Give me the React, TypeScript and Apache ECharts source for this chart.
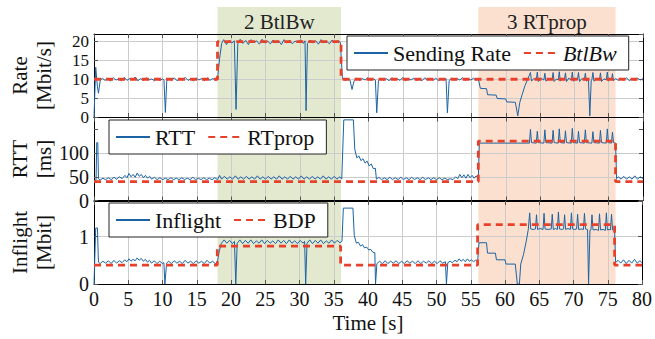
import React, { useEffect, useRef } from "react";
import * as echarts from "echarts";

// ---------- data ----------
const xTicks = { min: 0, max: 80, step: 5 };
const rateTicks = [0, 5, 10, 15, 20];
const rttTicks = [0, 50, 100];
const inflightTicks = [0, 1];
const yMaxes = [22, 175, 1.75];
const yIntervals = [5, 50, 1];

const phaseLabels = ["2 BtlBw", "3 RTprop"];
const phaseStarts = [18, 56];
const phaseEnds = [36, 76];

const btlBwData: [number, number][] = [[0, 10], [18, 10], [18, 20], [36, 20], [36, 10], [80, 10]];
const rtpropData: [number, number][] = [[0, 40], [56, 40], [56, 125], [76, 125], [76, 40], [80, 40]];
const bdpData: [number, number][] = [[0, 0.4], [18, 0.4], [18, 0.8], [36, 0.8], [36, 0.4], [56, 0.4], [56, 1.25], [76, 1.25], [76, 0.4], [80, 0.4]];

const rateData: [number, number][] = [
  [0, 0], [0.25, 13.2], [0.5, 8], [0.65, 6.3], [0.9, 9.6], [1.2, 10.3], [1.6, 9.7], [2.0, 10.2], [2.4, 9.5], [2.8, 10.4],
  [3.2, 9.8], [3.6, 10.1], [4.0, 9.6], [4.4, 10.5], [4.8, 9.7], [5.2, 10.2], [5.6, 9.8], [6.0, 10.6], [6.4, 9.6], [6.8, 10.2],
  [7.2, 9.7], [7.6, 10.4], [8.0, 9.8], [8.4, 10.1], [8.8, 9.6], [9.2, 10.3], [9.6, 9.7], [10.0, 10.1], [10.2, 9.8], [10.4, 1.2],
  [10.6, 9.5], [10.9, 10.2], [11.3, 9.7], [11.7, 10.4], [12.1, 9.6], [12.5, 10.2], [12.9, 9.8], [13.3, 10.5], [13.7, 9.7], [14.1, 10.1],
  [14.5, 9.6], [14.9, 10.3], [15.3, 9.8], [15.7, 10.2], [16.1, 9.6], [16.5, 10.4], [16.9, 9.7], [17.3, 10.2], [17.7, 9.8], [18.0, 10.0],
  [18.3, 15.5], [18.6, 19.5], [18.9, 20.5], [19.3, 19.2], [19.7, 20.3], [20.1, 19.6], [20.45, 20.2], [20.7, 2.0], [20.95, 19.4], [21.3, 20.6],
  [21.7, 19.5], [22.1, 20.3], [22.5, 19.2], [22.9, 20.5], [23.3, 19.7], [23.7, 20.2], [24.1, 19.3], [24.5, 20.6], [24.9, 19.6], [25.3, 20.1],
  [25.7, 19.4], [26.1, 20.4], [26.5, 19.7], [26.9, 20.2], [27.3, 19.2], [27.7, 20.5], [28.1, 19.6], [28.5, 20.3], [28.9, 19.4], [29.3, 20.1],
  [29.7, 19.7], [30.1, 20.5], [30.5, 19.5], [30.75, 20.2], [30.9, 1.7], [31.1, 19.5], [31.5, 20.4], [31.9, 19.6], [32.3, 20.2], [32.7, 19.3],
  [33.1, 20.5], [33.5, 19.7], [33.9, 20.1], [34.3, 19.4], [34.7, 20.4], [35.1, 19.6], [35.5, 20.2], [35.9, 19.8], [36.2, 10.2], [36.6, 9.7],
  [37.0, 10.1], [37.3, 9.8], [37.6, 7.3], [37.9, 9.6], [38.3, 10.3], [38.7, 9.7], [39.1, 10.2], [39.5, 9.8], [39.9, 10.4], [40.3, 9.7],
  [40.7, 10.1], [41.0, 9.8], [41.2, 1.1], [41.45, 9.6], [41.8, 10.3], [42.2, 9.7], [42.6, 10.2], [43.0, 9.6], [43.4, 10.4], [43.8, 9.8],
  [44.2, 10.1], [44.6, 9.7], [45.0, 10.5], [45.4, 9.6], [45.8, 10.2], [46.2, 9.8], [46.6, 10.3], [47.0, 9.7], [47.4, 10.1], [47.8, 9.6],
  [48.2, 10.4], [48.6, 9.8], [49.0, 10.2], [49.4, 9.7], [49.8, 10.3], [50.2, 9.6], [50.6, 10.1], [51.0, 9.8], [51.3, 10.2], [51.5, 1.1],
  [51.75, 9.6], [52.1, 10.3], [52.5, 9.7], [52.9, 10.2], [53.3, 9.8], [53.7, 10.4], [54.1, 9.7], [54.5, 10.2], [54.9, 9.8], [55.3, 10.3],
  [55.7, 9.7], [56.0, 10.1], [56.3, 7.6], [57.2, 7.5], [57.35, 5.9], [58.6, 5.8], [58.75, 4.9], [60.0, 4.8], [60.15, 4.0], [61.4, 3.9],
  [61.75, 0.3], [62.05, 3.9], [62.4, 6.0], [62.8, 8.3], [63.2, 10.0], [63.6, 11.8], [63.75, 9.5], [64.1, 10.2], [64.45, 9.9], [64.6, 11.9],
  [64.75, 9.4], [65.1, 10.3], [65.55, 9.8], [65.7, 11.6], [65.85, 9.5], [66.3, 10.2], [66.75, 9.9], [66.9, 11.8], [67.05, 9.4], [67.4, 10.1],
  [67.65, 9.8], [67.8, 12.0], [67.95, 9.5], [68.3, 10.2], [68.55, 9.9], [68.7, 11.7], [68.85, 9.4], [69.2, 10.3], [69.55, 9.8], [69.7, 11.9],
  [69.85, 9.5], [70.2, 10.1], [70.45, 9.9], [70.6, 11.8], [70.75, 9.4], [71.1, 10.2], [71.45, 9.8], [71.6, 11.6], [71.75, 9.5], [72.05, 10.0],
  [72.25, 0.3], [72.45, 9.6], [72.55, 9.9], [72.7, 11.8], [72.85, 9.5], [73.3, 10.2], [73.65, 9.8], [73.8, 11.7], [73.95, 9.4], [74.3, 10.1],
  [74.65, 9.9], [74.8, 11.9], [74.95, 9.5], [75.2, 10.2], [75.4, 9.8], [75.55, 11.5], [75.7, 9.6], [76.0, 10.2], [76.4, 9.7], [76.8, 10.3],
  [77.2, 9.8], [77.6, 10.4], [78.0, 9.6], [78.4, 10.2], [78.8, 9.7], [79.2, 10.3], [79.6, 9.8], [80, 10.1],
];

const rttData: [number, number][] = [
  [0, 42], [0.3, 43], [0.4, 122], [0.55, 122], [0.65, 46], [0.9, 43], [1.3, 47], [1.7, 44], [2.1, 48], [2.5, 44],
  [2.9, 49], [3.3, 45], [3.7, 50], [4.1, 46], [4.5, 53], [4.8, 48], [5.1, 57], [5.4, 50], [5.7, 55], [6.0, 49],
  [6.3, 58], [6.6, 51], [6.9, 55], [7.2, 48], [7.5, 53], [7.8, 47], [8.1, 51], [8.4, 45], [8.8, 49], [9.2, 44],
  [9.6, 48], [10.0, 44], [10.4, 47], [10.8, 44], [11.2, 48], [11.6, 44], [12.0, 47], [12.4, 44], [12.8, 48], [13.2, 44],
  [13.6, 47], [14.0, 44], [14.4, 49], [14.8, 44], [15.2, 47], [15.6, 44], [16.0, 48], [16.4, 44], [16.8, 47], [17.2, 44],
  [17.6, 48], [18.0, 44], [18.3, 53], [18.6, 45], [19.0, 51], [19.4, 45], [19.8, 50], [20.2, 45], [20.6, 52], [21.0, 45],
  [21.4, 50], [21.8, 45], [22.2, 51], [22.6, 45], [23.0, 50], [23.4, 45], [23.8, 52], [24.2, 45], [24.6, 50], [25.0, 45],
  [25.4, 51], [25.8, 45], [26.2, 50], [26.6, 45], [27.0, 52], [27.4, 45], [27.8, 50], [28.2, 45], [28.6, 51], [29.0, 45],
  [29.4, 50], [29.8, 45], [30.2, 52], [30.6, 45], [31.0, 50], [31.4, 45], [31.8, 51], [32.2, 45], [32.6, 50], [33.0, 45],
  [33.4, 52], [33.8, 45], [34.2, 50], [34.6, 45], [35.0, 51], [35.4, 45], [35.8, 50], [36.1, 45], [36.4, 170], [37.8, 170],
  [38.0, 108], [38.3, 90], [38.6, 94], [38.9, 84], [39.2, 88], [39.5, 79], [39.8, 83], [40.1, 73], [40.4, 77], [40.7, 67],
  [41.0, 68], [41.15, 45], [41.5, 49], [41.9, 44], [42.3, 48], [42.7, 44], [43.1, 49], [43.5, 44], [43.9, 48], [44.3, 44],
  [44.7, 49], [45.1, 44], [45.5, 48], [45.9, 44], [46.3, 49], [46.7, 44], [47.1, 48], [47.5, 44], [47.9, 49], [48.3, 44],
  [48.7, 48], [49.1, 44], [49.5, 48], [49.9, 44], [50.3, 48], [50.7, 44], [51.1, 47], [51.5, 44], [51.9, 46], [52.3, 44],
  [52.7, 50], [53.0, 46], [53.3, 55], [53.6, 48], [53.9, 54], [54.2, 47], [54.5, 55], [54.8, 48], [55.1, 53], [55.4, 47],
  [55.7, 52], [56.0, 46], [56.15, 121], [63.45, 121], [63.6, 150], [63.75, 122], [64.45, 121], [64.6, 146], [64.75, 122], [65.55, 121],
  [65.7, 149], [65.85, 122], [66.75, 121], [66.9, 148], [67.05, 122], [67.65, 121], [67.8, 151], [67.95, 122], [68.55, 121], [68.7, 147],
  [68.85, 122], [69.55, 121], [69.7, 152], [69.85, 122], [70.45, 121], [70.6, 146], [70.75, 122], [71.45, 121], [71.6, 149], [71.75, 122],
  [72.55, 121], [72.7, 145], [72.85, 122], [73.65, 121], [73.8, 148], [73.95, 122], [74.65, 121], [74.8, 151], [74.95, 122], [75.4, 121],
  [75.55, 144], [75.7, 122], [76.0, 121], [76.15, 46], [76.4, 50], [76.8, 45], [77.2, 51], [77.6, 45], [78.0, 50], [78.4, 45],
  [78.8, 52], [79.2, 45], [79.6, 50], [80, 46],
];

const inflightData: [number, number][] = [
  [0, 0], [0.25, 1.18], [0.5, 1.18], [0.65, 0.46], [0.9, 0.43], [1.3, 0.48], [1.7, 0.44], [2.1, 0.49], [2.5, 0.43], [2.9, 0.5],
  [3.3, 0.44], [3.7, 0.49], [4.1, 0.45], [4.5, 0.51], [4.8, 0.47], [5.1, 0.53], [5.4, 0.48], [5.7, 0.52], [6.0, 0.49], [6.3, 0.55],
  [6.6, 0.5], [6.9, 0.54], [7.2, 0.48], [7.5, 0.52], [7.8, 0.46], [8.1, 0.5], [8.4, 0.44], [8.8, 0.49], [9.2, 0.43], [9.6, 0.48],
  [10.0, 0.43], [10.2, 0.45], [10.35, 0], [10.6, 0.44], [10.9, 0.48], [11.3, 0.43], [11.7, 0.49], [12.1, 0.44], [12.5, 0.48], [12.9, 0.43],
  [13.3, 0.5], [13.7, 0.44], [14.1, 0.48], [14.5, 0.43], [14.9, 0.49], [15.3, 0.44], [15.7, 0.48], [16.1, 0.43], [16.5, 0.5], [16.9, 0.44],
  [17.3, 0.48], [17.7, 0.43], [18.0, 0.45], [18.3, 0.7], [18.6, 0.86], [19.0, 0.93], [19.4, 0.86], [19.8, 0.92], [20.2, 0.85], [20.5, 0.9],
  [20.7, 0], [20.9, 0.86], [21.3, 0.93], [21.7, 0.85], [22.1, 0.92], [22.5, 0.86], [22.9, 0.93], [23.3, 0.85], [23.7, 0.91], [24.1, 0.86],
  [24.5, 0.93], [24.9, 0.85], [25.3, 0.92], [25.7, 0.86], [26.1, 0.91], [26.5, 0.85], [26.9, 0.93], [27.3, 0.86], [27.7, 0.92], [28.1, 0.85],
  [28.5, 0.93], [28.9, 0.86], [29.3, 0.91], [29.7, 0.85], [30.1, 0.92], [30.5, 0.86], [30.75, 0.9], [30.9, 0], [31.1, 0.86], [31.5, 0.93],
  [31.9, 0.85], [32.3, 0.92], [32.7, 0.86], [33.1, 0.93], [33.5, 0.85], [33.9, 0.91], [34.3, 0.86], [34.7, 0.93], [35.1, 0.86], [35.5, 0.92],
  [35.9, 0.87], [36.2, 0.9], [36.4, 1.6], [37.8, 1.6], [38.0, 1.02], [38.3, 0.86], [38.6, 0.88], [38.9, 0.8], [39.2, 0.83], [39.5, 0.76],
  [39.8, 0.78], [40.1, 0.72], [40.4, 0.73], [40.7, 0.67], [41.0, 0.66], [41.1, 0], [41.3, 0.43], [41.7, 0.48], [42.1, 0.43], [42.5, 0.49],
  [42.9, 0.43], [43.3, 0.48], [43.7, 0.44], [44.1, 0.49], [44.5, 0.43], [44.9, 0.48], [45.3, 0.43], [45.7, 0.49], [46.1, 0.44], [46.5, 0.48],
  [46.9, 0.43], [47.3, 0.49], [47.7, 0.43], [48.1, 0.48], [48.5, 0.44], [48.9, 0.49], [49.3, 0.43], [49.7, 0.48], [50.1, 0.43], [50.5, 0.49],
  [50.9, 0.44], [51.3, 0.47], [51.45, 0], [51.65, 0.45], [52.0, 0.48], [52.3, 0.45], [52.7, 0.5], [53.0, 0.47], [53.3, 0.53], [53.6, 0.48],
  [53.9, 0.52], [54.2, 0.47], [54.5, 0.53], [54.8, 0.48], [55.1, 0.51], [55.4, 0.47], [55.7, 0.5], [56.0, 0.46], [56.2, 0.87], [57.3, 0.87],
  [57.45, 0.65], [58.6, 0.65], [58.75, 0.51], [60.0, 0.51], [60.15, 0.42], [61.5, 0.42], [61.8, 0], [62.1, 0], [62.3, 0.42], [62.7, 0.62],
  [63.1, 0.9], [63.4, 1.15], [63.6, 1.5], [63.75, 1.16], [64.1, 1.15], [64.45, 1.16], [64.6, 1.46], [64.75, 1.15], [65.1, 1.17], [65.55, 1.15],
  [65.7, 1.49], [65.85, 1.16], [66.3, 1.15], [66.75, 1.16], [66.9, 1.47], [67.05, 1.15], [67.4, 1.17], [67.65, 1.15], [67.8, 1.52], [67.95, 1.16],
  [68.3, 1.15], [68.55, 1.16], [68.7, 1.46], [68.85, 1.15], [69.2, 1.17], [69.55, 1.15], [69.7, 1.5], [69.85, 1.16], [70.2, 1.15], [70.45, 1.16],
  [70.6, 1.47], [70.75, 1.15], [71.1, 1.16], [71.45, 1.15], [71.6, 1.49], [71.75, 1.16], [72.05, 1.15], [72.2, 0], [72.4, 1.13], [72.55, 1.14],
  [72.7, 1.46], [72.85, 1.14], [73.3, 1.15], [73.65, 1.13], [73.8, 1.48], [73.95, 1.14], [74.3, 1.15], [74.65, 1.13], [74.8, 1.5], [74.95, 1.14],
  [75.2, 1.15], [75.4, 1.14], [75.55, 1.47], [75.7, 1.14], [76.0, 1.13], [76.15, 0.45], [76.5, 0.5], [76.9, 0.44], [77.3, 0.51], [77.7, 0.43],
  [78.1, 0.5], [78.5, 0.44], [78.9, 0.52], [79.3, 0.44], [79.7, 0.49], [80, 0.45],
];

// ---------- styling ----------
const FONT = "Liberation Serif";
const BLUE = "#1b63a3";
const RED = "#e8412b";
const GRID_GRAY = "#cccccc";
const NO_LINE = "rgba(0,0,0,0)";
const PHASE_COLORS = ["#e3e9cf", "#fbe0cf"];
const GRID_TOPS = [34, 117.5, 201];
const GRID_H = 83;
const Y_LABEL_SIZES = [17, 20, 20];

function xAxesFor(i: number) {
  const common: any = {
    type: "value", gridIndex: i, min: xTicks.min, max: xTicks.max, interval: xTicks.step,
    axisLine: { show: true, onZero: false, lineStyle: { color: "#000", width: 1 } },
    axisTick: { show: true, inside: true, length: 4, lineStyle: { color: "#555", width: 1 } },
  };
  return [
    {
      ...common, position: "bottom",
      axisLabel: { show: i === 2, fontFamily: FONT, fontSize: 20, color: "#111", margin: 5 },
      splitLine: { show: true, lineStyle: { color: GRID_GRAY, width: 1 } },
      name: i === 2 ? "Time [s]" : "", nameLocation: "middle", nameGap: 28,
      nameTextStyle: { fontFamily: FONT, fontSize: 21, color: "#111", fontWeight: "normal" },
    },
    { ...common, position: "top", axisLabel: { show: false }, splitLine: { show: false } },
  ];
}

function yAxesFor(i: number, ticks: number[], name: string) {
  const max = yMaxes[i];
  const interval = yIntervals[i];
  // grid line colour per generated tick: visible only on the listed ticks
  const lineColors: string[] = [];
  for (let v = 0; v <= max + 1e-9; v += interval) lineColors.push(ticks.some((t) => Math.abs(t - v) < 1e-9) ? GRID_GRAY : NO_LINE);
  lineColors.push(NO_LINE);
  const common: any = {
    type: "value", gridIndex: i, min: 0, max, interval,
    axisLine: { show: true, onZero: false, lineStyle: { color: "#000", width: 1 } },
    axisTick: { show: true, inside: true, length: 4, lineStyle: { color: "#555", width: 1 } },
  };
  return [
    {
      ...common, position: "left",
      axisLabel: {
        fontFamily: FONT, fontSize: Y_LABEL_SIZES[i], lineHeight: 15, color: "#111", margin: 5, showMaxLabel: false, hideOverlap: false,
        formatter: (v: number) => (ticks.some((t) => Math.abs(t - v) < 1e-9) ? String(v) : ""),
      },
      splitLine: { show: true, lineStyle: { color: lineColors, width: 1 } },
      name, nameLocation: "middle", nameRotate: 90, nameGap: 38, nameMoveOverlap: false,
      nameTextStyle: { fontFamily: FONT, fontSize: 21, lineHeight: 24, color: "#111", align: "center" },
    },
    { ...common, position: "right", axisLabel: { show: false }, splitLine: { show: false } },
  ];
}

function lineSeries(name: string, data: [number, number][], i: number, dashed: boolean) {
  return {
    type: "line", name, data, xAxisIndex: 2 * i, yAxisIndex: 2 * i,
    symbol: "none", showSymbol: false, silent: true,
    itemStyle: { color: dashed ? RED : BLUE },
    lineStyle: dashed ? { color: RED, width: 2.8, type: [7, 5] } : { color: BLUE, width: 1 },
    z: dashed ? 3 : 2,
  };
}

function legendFor(names: string[], left: number, top: number) {
  return {
    data: names, left, top, orient: "horizontal", selectedMode: false,
    backgroundColor: "#fff", borderColor: "#222", borderWidth: 1, borderRadius: 0,
    padding: [6, 12, 6, 6], itemWidth: 34, itemHeight: 14, itemGap: 12,
    itemStyle: { opacity: 0 },
    textStyle: { fontFamily: FONT, fontSize: 22, color: "#111", rich: { it: { fontFamily: FONT, fontSize: 22, fontStyle: "italic", color: "#111" } } },
    formatter: (n: string) => (n === "BtlBw" ? "{it|BtlBw}" : n),
    z: 10,
  };
}

function buildOption(): any {
  return {
    animation: false,
    textStyle: { fontFamily: FONT },
    grid: GRID_TOPS.map((t) => ({ left: 92, right: 12, top: t, height: GRID_H, containLabel: false })),
    xAxis: [...xAxesFor(0), ...xAxesFor(1), ...xAxesFor(2)],
    yAxis: [
      ...yAxesFor(0, rateTicks, "Rate\n[Mbit/s]"),
      ...yAxesFor(1, rttTicks, "RTT\n[ms]"),
      ...yAxesFor(2, inflightTicks, "Inflight\n[Mbit]"),
    ],
    legend: [
      legendFor(["Sending Rate", "BtlBw"], 347, 36),
      legendFor(["RTT", "RTprop"], 109, 120),
      legendFor(["Inflight", "BDP"], 109, 203),
    ],
    series: [
      lineSeries("Sending Rate", rateData, 0, false),
      lineSeries("BtlBw", btlBwData, 0, true),
      lineSeries("RTT", rttData, 1, false),
      lineSeries("RTprop", rtpropData, 1, true),
      lineSeries("Inflight", inflightData, 2, false),
      lineSeries("BDP", bdpData, 2, true),
    ],
  };
}

export default function App() {
  const ref = useRef<HTMLDivElement>(null);
  useEffect(() => {
    document.body.style.margin = "0";
    const chart = echarts.init(ref.current!, null, { renderer: "svg" });
    chart.setOption(buildOption());
    const yTop = chart.convertToPixel({ yAxisIndex: 0 }, yMaxes[0]) as number;
    const yBottom = chart.convertToPixel({ yAxisIndex: 4 }, 0) as number;
    const shadeTop = yTop - 27;
    const graphics: any[] = [];
    phaseStarts.forEach((s, k) => {
      const x0 = chart.convertToPixel({ xAxisIndex: 0 }, s) as number;
      const x1 = chart.convertToPixel({ xAxisIndex: 0 }, phaseEnds[k]) as number;
      graphics.push({
        type: "rect", z: -1, silent: true,
        shape: { x: x0, y: shadeTop, width: x1 - x0, height: yBottom - shadeTop },
        style: { fill: PHASE_COLORS[k] },
      });
      graphics.push({
        type: "text", z: 5, silent: true, x: (x0 + x1) / 2, y: shadeTop + 15,
        style: { text: phaseLabels[k], fontFamily: FONT, fontSize: 21, fill: "#222", align: "center", verticalAlign: "middle" },
      });
    });
    chart.setOption({ graphic: graphics });
    return () => chart.dispose();
  }, []);
  return <div ref={ref} style={{ position: "absolute", left: 0, top: 0, width: 655, height: 339 }} />;
}
